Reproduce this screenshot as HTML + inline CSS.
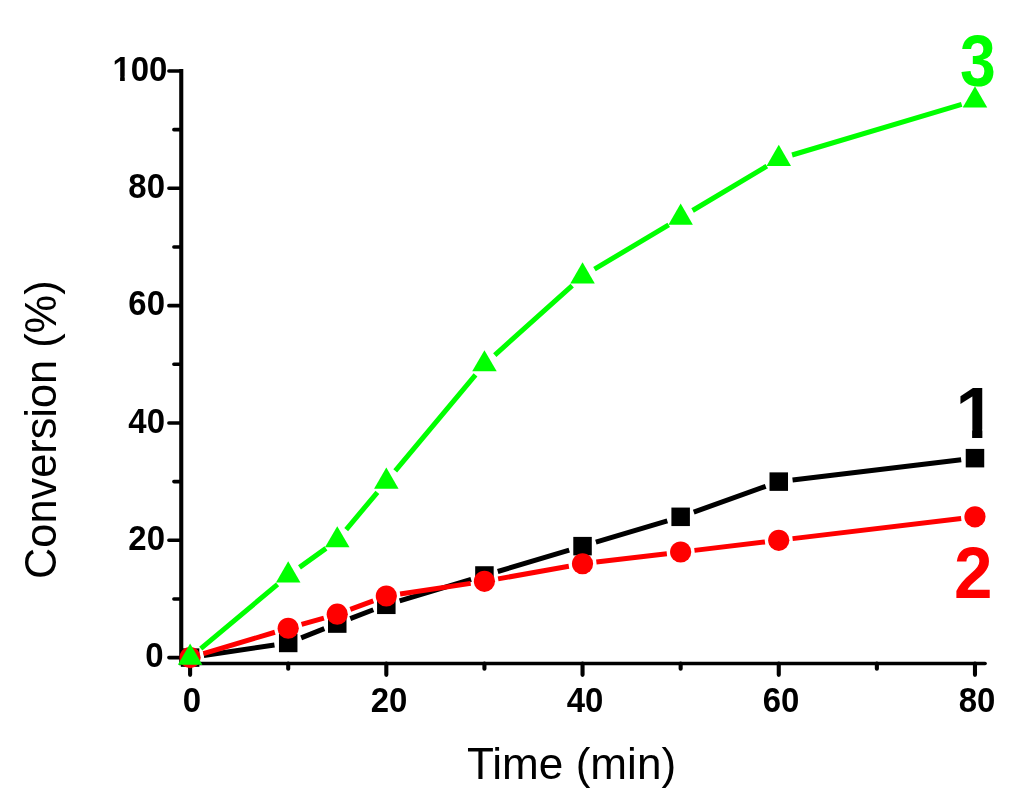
<!DOCTYPE html>
<html><head><meta charset="utf-8"><title>Conversion vs Time</title>
<style>
html,body{margin:0;padding:0;background:#fff;}
body{width:1024px;height:794px;position:relative;overflow:hidden;font-family:"Liberation Sans",sans-serif;color:#000;}
div{position:absolute;white-space:nowrap;line-height:1;}
.t{font-weight:bold;font-size:35px;}
.yt{right:856.85px;transform:scaleX(0.94);transform-origin:100% 50%;margin-top:-17.5px;}
.xt{top:682px;width:120px;margin-left:-60px;text-align:center;transform:scaleX(0.94);transform-origin:50% 50%;}
.a{transform-origin:0 0;}
.s{font-weight:bold;transform-origin:0 0;}
</style></head><body>
<svg width="1024" height="794" viewBox="0 0 1024 794" style="position:absolute;left:0;top:0">
<g stroke="#000" fill="none">
<path d="M181.25 69 V665.30" stroke-width="4.1"/>
<path d="M181.25 663.5 H985.1" stroke-width="3.6" stroke-linecap="round"/>
</g>
<g stroke="#000" stroke-linecap="round" fill="none">
<path d="M181.25 657.60H168.90M181.25 540.28H168.90M181.25 422.96H168.90M181.25 305.64H168.90M181.25 188.32H168.90M181.25 71.00H168.90M181.25 598.94H173.90M181.25 481.62H173.90M181.25 364.30H173.90M181.25 246.98H173.90M181.25 129.66H173.90" stroke-width="3.6"/>
<path d="M190.10 663.5V674.85M386.32 663.5V674.85M582.54 663.5V674.85M778.76 663.5V674.85M974.98 663.5V674.85M288.21 663.5V668.75M484.43 663.5V668.75M680.65 663.5V668.75M876.87 663.5V668.75" stroke-width="4.1"/>
</g>
<path d="M203.85 655.55L274.46 644.99M301.14 637.83L324.34 628.68M350.25 618.61L373.34 609.77M399.64 600.82L471.11 579.46M497.75 571.49L569.22 550.13M595.86 542.16L667.33 520.80M693.73 512.12L765.68 486.31M792.56 479.97L961.18 459.81" stroke="#000000" stroke-width="5.0" fill="none"/>
<g fill="#000000">
<rect x="180.85" y="648.35" width="18.5" height="18.5"/>
<rect x="278.96" y="633.69" width="18.5" height="18.5"/>
<rect x="328.01" y="614.33" width="18.5" height="18.5"/>
<rect x="377.07" y="595.56" width="18.5" height="18.5"/>
<rect x="475.18" y="566.23" width="18.5" height="18.5"/>
<rect x="573.29" y="536.90" width="18.5" height="18.5"/>
<rect x="671.40" y="507.57" width="18.5" height="18.5"/>
<rect x="769.51" y="472.37" width="18.5" height="18.5"/>
<rect x="965.73" y="448.91" width="18.5" height="18.5"/>
</g>
<path d="M203.42 653.62L274.89 632.25M301.57 624.44L323.90 618.03M350.30 609.36L373.29 600.84M400.07 593.95L470.68 583.40M498.11 578.89L568.86 566.20M596.34 562.09L666.85 553.66M694.45 550.36L764.96 541.93M792.56 538.63L961.18 518.47" stroke="#ff0000" stroke-width="5.0" fill="none"/>
<g fill="#ff0000">
<circle cx="190.10" cy="657.60" r="10.6"/>
<circle cx="288.21" cy="628.27" r="10.6"/>
<circle cx="337.26" cy="614.19" r="10.6"/>
<circle cx="386.32" cy="596.01" r="10.6"/>
<circle cx="484.43" cy="581.34" r="10.6"/>
<circle cx="582.54" cy="563.74" r="10.6"/>
<circle cx="680.65" cy="552.01" r="10.6"/>
<circle cx="778.76" cy="540.28" r="10.6"/>
<circle cx="974.98" cy="516.82" r="10.6"/>
</g>
<path d="M200.76 648.68L277.55 584.40M299.50 567.37L325.97 548.38M346.18 529.62L377.40 492.28M395.24 470.96L475.51 374.96M494.78 355.02L572.19 285.59M594.47 269.18L668.72 224.78M692.58 210.52L766.83 166.12M792.08 155.01L961.66 104.31" stroke="#00ff00" stroke-width="5.0" fill="none"/>
<g fill="#00ff00">
<path d="M190.10 643.45L202.35 664.67L177.85 664.67Z"/>
<path d="M288.21 561.33L300.46 582.55L275.96 582.55Z"/>
<path d="M337.26 526.13L349.51 547.35L325.01 547.35Z"/>
<path d="M386.32 467.47L398.57 488.69L374.07 488.69Z"/>
<path d="M484.43 350.15L496.68 371.37L472.18 371.37Z"/>
<path d="M582.54 262.16L594.79 283.38L570.29 283.38Z"/>
<path d="M680.65 203.50L692.90 224.72L668.40 224.72Z"/>
<path d="M778.76 144.84L791.01 166.06L766.51 166.06Z"/>
<path d="M974.98 86.18L987.23 107.40L962.73 107.40Z"/>
</g>
</svg>
<div class="t yt" style="top:654.90px;right:860.65px">0</div>
<div class="t yt" style="top:537.58px;right:859.15px">20</div>
<div class="t yt" style="top:420.26px;right:859.15px">40</div>
<div class="t yt" style="top:302.94px;right:859.15px">60</div>
<div class="t yt" style="top:185.62px;right:859.15px">80</div>
<div class="t yt" style="top:68.30px;right:856.85px"><span style="display:inline-block;clip-path:polygon(0 0,100% 0,100% 0.727em,0.373em 0.727em,0.373em 100%,0.231em 100%,0.231em 0.727em,0 0.727em)">1</span>00</div>
<div class="t xt" style="left:192.40px">0</div>
<div class="t xt" style="left:388.62px">20</div>
<div class="t xt" style="left:584.84px">40</div>
<div class="t xt" style="left:781.06px">60</div>
<div class="t xt" style="left:977.28px">80</div>
<div class="a" style="left:467.4px;top:742.1px;font-size:43.8px;transform:scaleX(1.0073);">Time (min)</div>
<div class="a" style="left:19.2px;top:578.95px;font-size:44.4px;transform:rotate(-90deg) scaleX(0.976);">Conversion (%)</div>
<div class="s" style="left:959.65px;top:25.35px;font-size:72px;transform:scaleX(0.894);color:#00ff00">3</div>
<div class="s" style="left:955.45px;top:377.03px;font-size:72.2px;transform:scaleX(1.0);color:#000;clip-path:polygon(0 0,100% 0,100% 0.727em,0.373em 0.727em,0.373em 100%,0.231em 100%,0.231em 0.727em,0 0.727em)">1</div>
<div class="s" style="left:953.8px;top:537.1px;font-size:72.3px;transform:scaleX(0.957);color:#ff0000">2</div>
</body></html>
